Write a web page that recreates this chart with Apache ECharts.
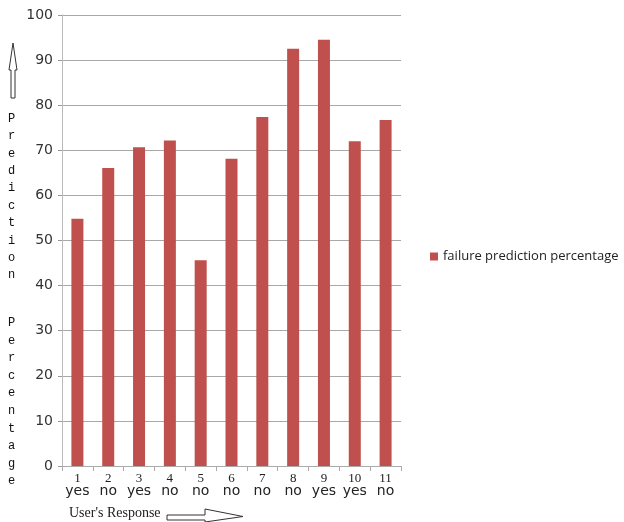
<!DOCTYPE html>
<html>
<head>
<meta charset="utf-8">
<script src="https://cdn.jsdelivr.net/npm/echarts@6/dist/echarts.min.js"></script>
<style>
  html, body { margin: 0; padding: 0; background: #fff; }
  #box { width: 624px; height: 522px; }
</style>
</head>
<body>
<div id="box"></div>
<script>
// data
const userIds = ['1', '2', '3', '4', '5', '6', '7', '8', '9', '10', '11'];
const responses = ['yes', 'no', 'yes', 'no', 'no', 'no', 'no', 'no', 'yes', 'yes', 'no'];
const failurePct = [54.8, 66.1, 70.7, 72.2, 45.6, 68.1, 77.4, 92.5, 94.5, 72.0, 76.7];
const yTicks = [0, 10, 20, 30, 40, 50, 60, 70, 80, 90, 100];

const myChart = echarts.init(document.getElementById('box'));

const option = {
  animation: false,
  grid: { left: 62, right: 223, top: 15, bottom: 56 },
  legend: {
    data: ['failure prediction percentage'],
    icon: 'rect',
    left: 425, top: 245,
    itemWidth: 8, itemHeight: 8, itemGap: 4,
    textStyle: { fontFamily: 'Open Sans', fontSize: 13, color: '#222' }
  },
  xAxis: {
    type: 'category',
    data: userIds,
    axisLine: { lineStyle: { color: '#aaa' } },
    axisTick: { show: true, length: 5, lineStyle: { color: '#aaa' } },
    axisLabel: {
      interval: 0,
      hideOverlap: false,
      margin: 6,
      formatter: function (v, i) {
        return '{n|' + v + '}\n{r|' + responses[i] + '}';
      },
      rich: {
        n: { fontFamily: 'Liberation Serif', fontSize: 13, color: '#222', lineHeight: 13 },
        r: { fontFamily: 'DejaVu Sans', fontSize: 14, color: '#222', lineHeight: 13 }
      }
    }
  },
  yAxis: {
    type: 'value',
    min: yTicks[0], max: yTicks[yTicks.length - 1], interval: 10,
    axisLine: { show: true, lineStyle: { color: '#bbb' } },
    axisTick: { show: true, length: 4, lineStyle: { color: '#999' } },
    splitLine: { lineStyle: { color: '#a8a8a8' } },
    axisLabel: { margin: 9, fontFamily: 'DejaVu Sans', fontSize: 14, color: '#333' }
  },
  series: [{
    name: 'failure prediction percentage',
    type: 'bar',
    data: failurePct,
    barWidth: 12,
    itemStyle: { color: '#c0504d' }
  }],
  graphic: [
    // up arrow beside the y title
    {
      type: 'polygon',
      shape: { points: [[13, 43], [17, 70], [15, 70], [15, 98], [11, 98], [11, 70], [9, 70]] },
      style: { fill: '#fff', stroke: '#333', lineWidth: 1 }
    },
    {
      type: 'text', left: 8, top: 110,
      style: { text: 'P\nr\ne\nd\ni\nc\nt\ni\no\nn', fontFamily: 'Liberation Mono', fontSize: 12, lineHeight: 17.4, fill: '#111', align: 'center' }
    },
    {
      type: 'text', left: 8, top: 314,
      style: { text: 'P\ne\nr\nc\ne\nn\nt\na\ng\ne', fontFamily: 'Liberation Mono', fontSize: 12, lineHeight: 17.6, fill: '#111', align: 'center' }
    },
    {
      type: 'text', left: 69, top: 506,
      style: { text: "User's Response", fontFamily: 'Liberation Serif', fontSize: 14, fill: '#222' }
    },
    // right arrow after the x title
    {
      type: 'polygon',
      shape: { points: [[167, 515], [205, 515], [205, 509], [243, 516.5], [205, 522], [205, 520], [167, 520]] },
      style: { fill: '#fff', stroke: '#333', lineWidth: 1 }
    }
  ]
};

myChart.setOption(option);
</script>
</body>
</html>
